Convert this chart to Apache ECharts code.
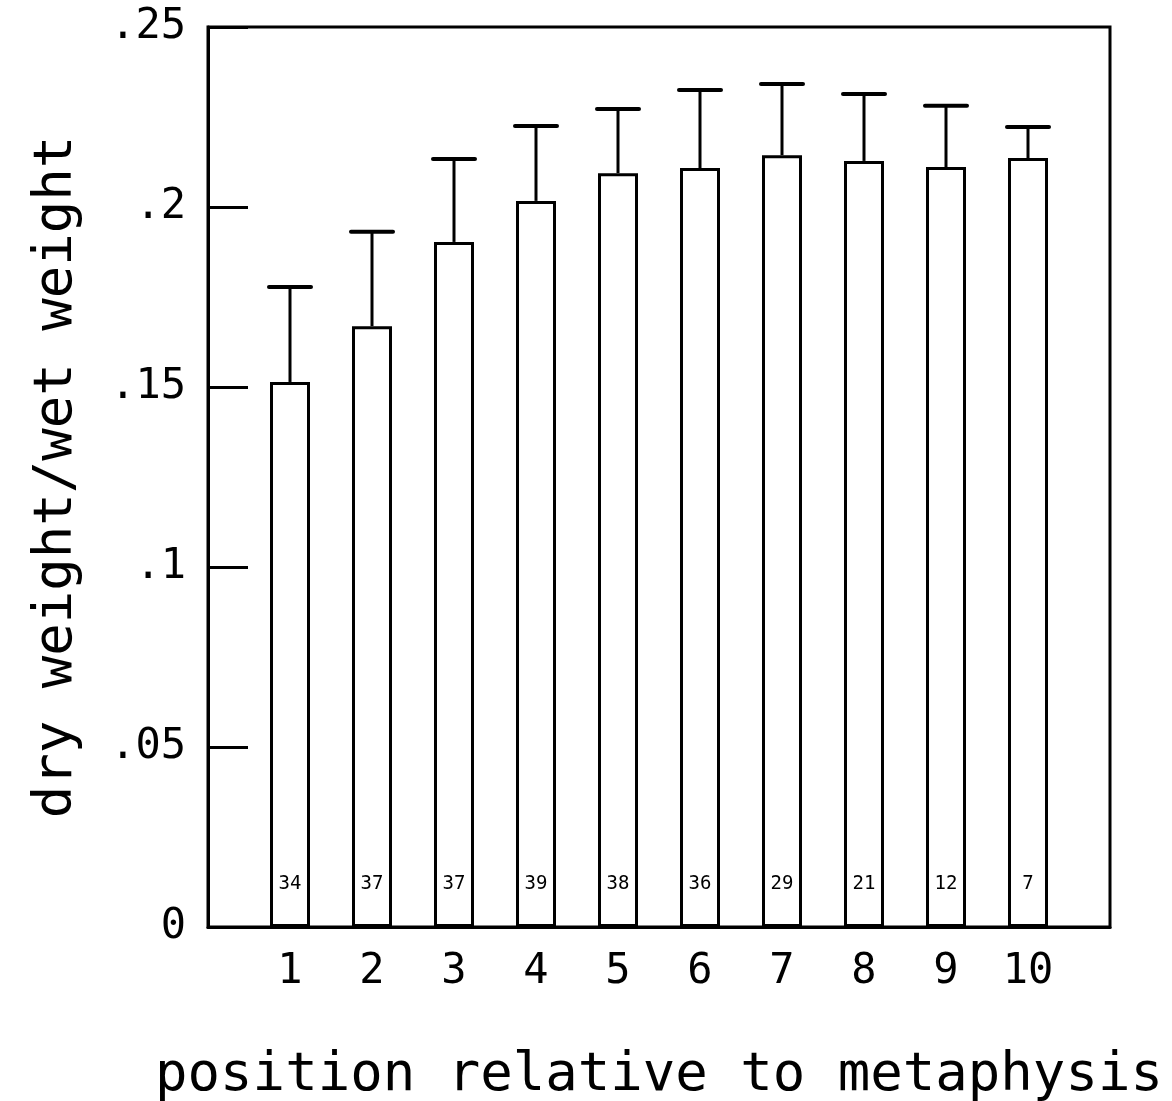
<!DOCTYPE html>
<html>
<head>
<meta charset="utf-8">
<title>dry weight / wet weight by position</title>
<script src="https://cdn.jsdelivr.net/npm/echarts@6/dist/echarts.min.js"></script>
<style>
  html, body { margin: 0; padding: 0; background: #fff; }
  #chart { width: 1172px; height: 1101px; }
</style>
</head>
<body>
<div id="chart"></div>
<script>
// Positions along the bone, measured from the metaphysis
const positions = [1, 2, 3, 4, 5, 6, 7, 8, 9, 10];
// Mean dry weight / wet weight ratio at each position
const meanRatio = [0.1514, 0.1669, 0.1903, 0.2017, 0.2094, 0.2108, 0.2144, 0.2128, 0.2111, 0.2136];
// Upper end of the error bar (mean + SD)
const upperRatio = [0.1778, 0.1931, 0.2133, 0.2225, 0.2272, 0.2325, 0.2342, 0.2314, 0.2281, 0.2222];
// Number of samples at each position
const sampleCounts = [34, 37, 37, 39, 38, 36, 29, 21, 12, 7];
// Y tick labels, keyed by tick value
const yTickValues = [0, 0.05, 0.1, 0.15, 0.2, 0.25];
const yTickLabels = ['0', '.05', '.1', '.15', '.2', '.25'];

const FONT = '"DejaVu Sans Mono", "Liberation Mono", monospace';
const BAR_W = 40;

const chart = echarts.init(document.getElementById('chart'), null, { renderer: 'canvas' });

const barData = positions.map((p, i) => [p, meanRatio[i]]);
const errData = positions.map((p, i) => [p, meanRatio[i], upperRatio[i]]);

chart.setOption({
  animation: false,
  backgroundColor: '#fff',
  grid: {
    left: 208, right: 62, top: 27, bottom: 174,
    outerBoundsMode: 'none',
    containLabel: false,
    show: true, borderColor: '#000', borderWidth: 3, backgroundColor: 'transparent'
  },
  xAxis: {
    type: 'value',
    min: 0, max: 11, interval: 1,
    name: 'position relative to metaphysis',
    nameLocation: 'middle',
    nameGap: 122,
    nameTextStyle: { fontFamily: FONT, fontSize: 54, color: '#000' },
    axisLine: { show: true, lineStyle: { color: '#000', width: 3 } },
    axisTick: { show: false },
    splitLine: { show: false },
    axisLabel: {
      margin: 24,
      fontFamily: FONT, fontSize: 42, color: '#000',
      formatter: v => (positions.indexOf(v) >= 0 ? String(v) : '')
    }
  },
  yAxis: {
    type: 'value',
    min: 0, max: 0.25, interval: 0.05,
    name: 'dry weight/wet weight',
    nameLocation: 'middle',
    nameRotate: 90,
    nameGap: 124,
    nameTextStyle: { fontFamily: FONT, fontSize: 54, color: '#000' },
    axisLine: { show: true, lineStyle: { color: '#000', width: 3 } },
    axisTick: { show: true, inside: true, length: 40, lineStyle: { color: '#000', width: 3 } },
    splitLine: { show: false },
    axisLabel: {
      margin: 22,
      fontFamily: FONT, fontSize: 42, color: '#000',
      formatter: v => {
        const k = yTickValues.findIndex(t => Math.abs(t - v) < 1e-9);
        return k >= 0 ? yTickLabels[k] : '';
      }
    }
  },
  series: [
    {
      type: 'bar',
      data: barData,
      barWidth: BAR_W,
      itemStyle: { color: '#fff', borderColor: '#000', borderWidth: 3 },
      label: {
        show: true,
        position: 'insideBottom',
        distance: 33,
        fontFamily: FONT, fontSize: 19, color: '#000',
        formatter: p => String(sampleCounts[p.dataIndex])
      },
      z: 2
    },
    {
      type: 'custom',
      data: errData,
      renderItem: (params, api) => {
        const x = api.value(0);
        const base = api.coord([x, api.value(1)]);
        const top = api.coord([x, api.value(2)]);
        const half = BAR_W / 2 + 1;
        return {
          type: 'group',
          children: [
            {
              type: 'line',
              shape: { x1: base[0], y1: base[1], x2: top[0], y2: top[1] },
              style: { stroke: '#000', lineWidth: 3 }
            },
            {
              type: 'line',
              shape: { x1: top[0] - half, y1: top[1], x2: top[0] + half, y2: top[1] },
              style: { stroke: '#000', lineWidth: 4, lineCap: 'round' }
            }
          ]
        };
      },
      z: 3
    }
  ]
});
</script>
</body>
</html>
